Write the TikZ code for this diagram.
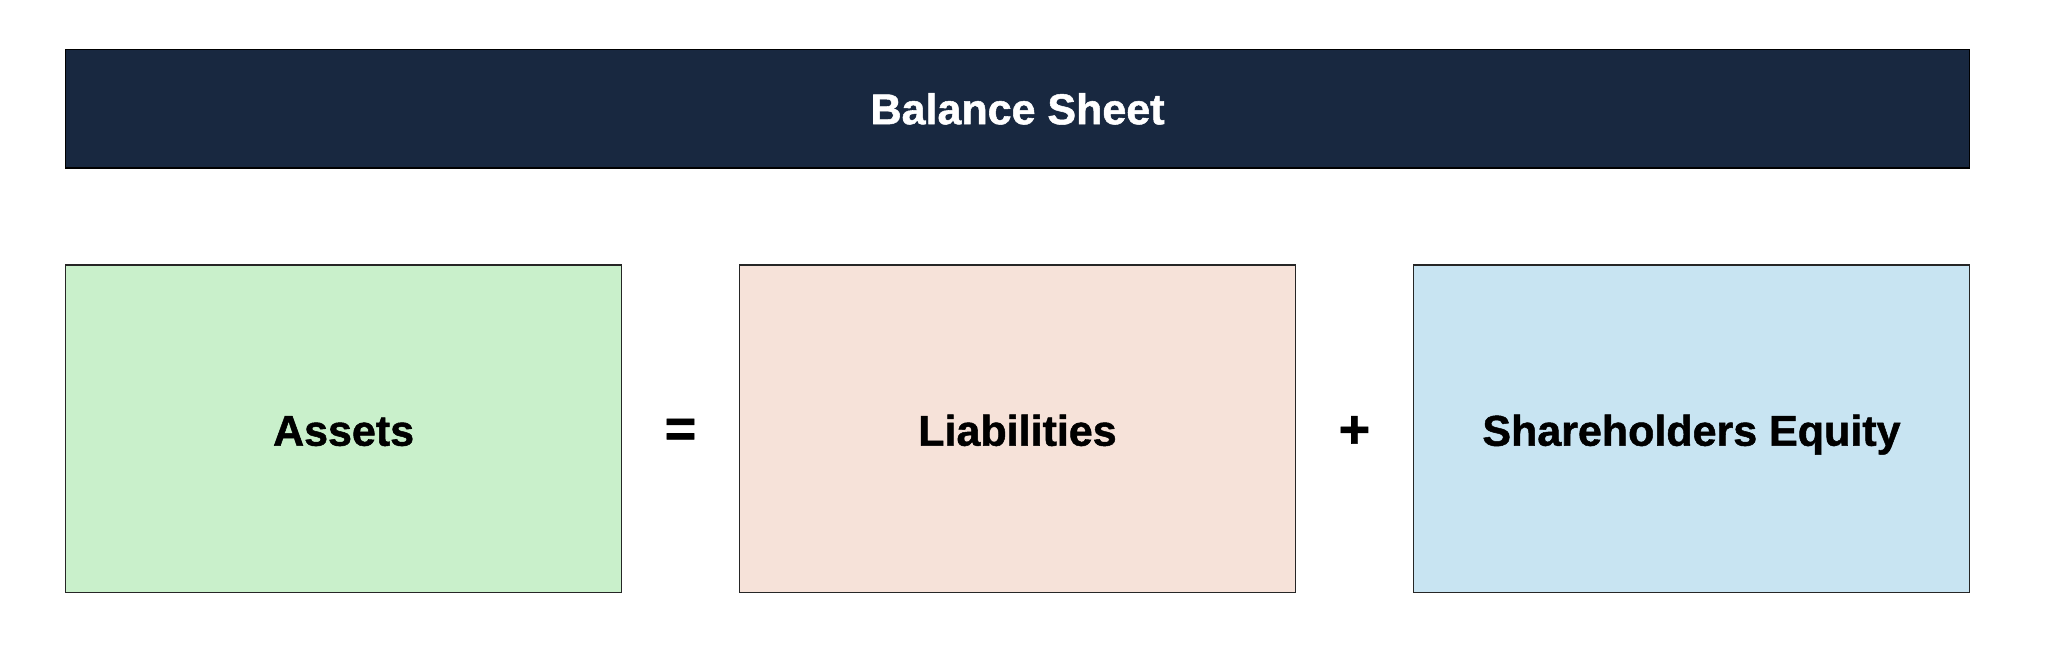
\documentclass[tikz,border=0pt]{standalone}
\usepackage{fontspec}
\setmainfont[BoldFeatures={FakeBold=1.2}]{Liberation Sans}
\definecolor{navy}{RGB}{24,40,64}
\definecolor{assetgreen}{RGB}{201,240,203}
\definecolor{liabpeach}{RGB}{246,226,217}
\definecolor{equityblue}{RGB}{200,228,242}
\begin{document}
\begin{tikzpicture}[x=1pt,y=-1pt,
  header/.style={rectangle, draw=black, line width=1.5pt, fill=navy,
    minimum width=1904pt, minimum height=118.5pt, inner sep=0pt,
    text=white, font=\fontsize{43}{50}\selectfont\bfseries,
    text height=30.8pt, text depth=0pt},
  bigbox/.style={rectangle, draw=black!85, line width=1.5pt,
    minimum width=556pt, minimum height=327.5pt, inner sep=0pt,
    text=black, font=\fontsize{43}{50}\selectfont\bfseries,
    text height=30.8pt, text depth=0pt},
  opsign/.style={inner sep=0pt, text=black, font=\fontsize{54}{60}\selectfont\bfseries}
]
\useasboundingbox (0,0) rectangle (2048,671);
\node[header] (hdr) at (1017.6,108.8) {Balance Sheet};
\node[bigbox, fill=assetgreen] (assets) at (343.6,428.8) {\raisebox{-1.5pt}{Assets}};
\node[bigbox, fill=liabpeach] (liab) at (1017.45,428.8) {\raisebox{-1.5pt}{Liabilities}};
\node[bigbox, fill=equityblue] (equity) at (1691.45,428.8) {\raisebox{-1.5pt}{Shareholders Equity}};
\node[opsign] (eq) at (680.5,433) {=};
\node[opsign] (plus) at (1354.4,432) {+};
\end{tikzpicture}
\end{document}
